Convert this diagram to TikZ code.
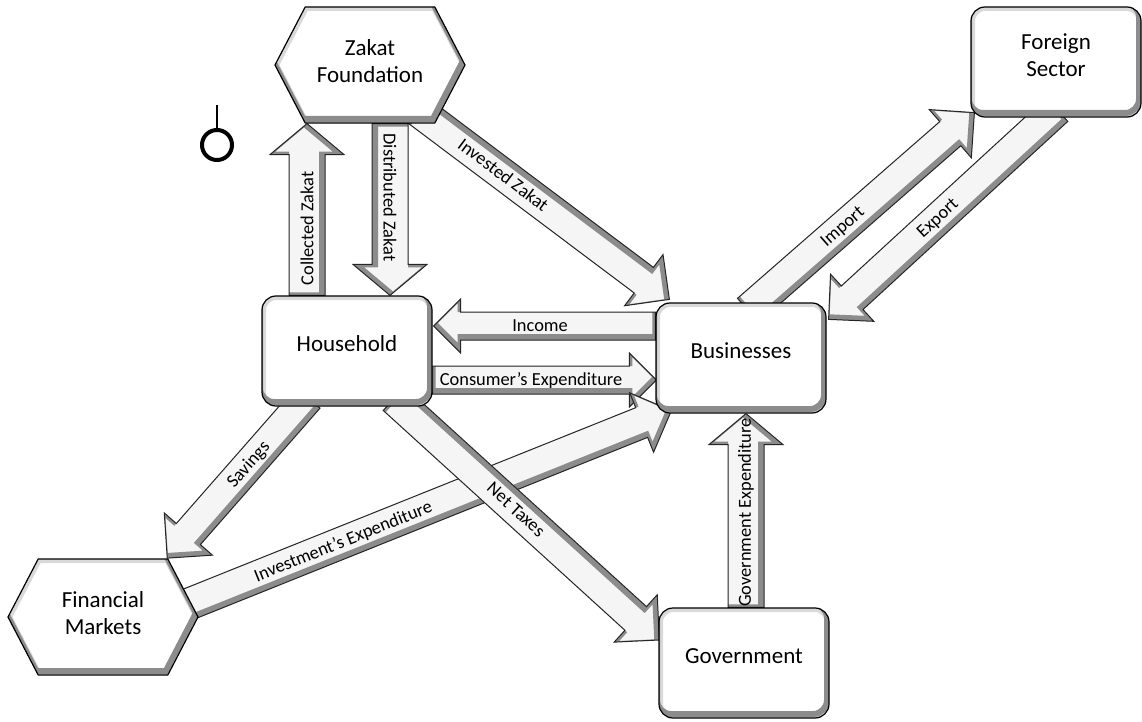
\documentclass[tikz,border=0pt]{standalone}
\usepackage{fontspec}
\setmainfont{Carlito}
\usetikzlibrary{shapes.symbols,calc,positioning}

\pgfdeclarelayer{back}
\pgfsetlayers{back,main}

\newdimen\flowdx
\newdimen\flowdy
\newcommand{\flowpath}{(0,-\flowb) -- (\flowlen-\flowtip,-\flowb) -- (\flowlen-\flowtip,-\flowH) -- (\flowlen,0) -- (\flowlen-\flowtip,\flowH) -- (\flowlen-\flowtip,\flowb) -- (0,\flowb) -- cycle}
% block arrow: [size]{tail}{tip}{label}{label pos}{dark side: 1 right, -1 left}
\newcommand{\flow}[6][flowdiag]{%
    \pgfextractx{\flowdx}{\pgfpointdiff{\pgfpointanchor{#2}{center}}{\pgfpointanchor{#3}{center}}}%
    \pgfextracty{\flowdy}{\pgfpointdiff{\pgfpointanchor{#2}{center}}{\pgfpointanchor{#3}{center}}}%
    \pgfmathsetmacro\flowlen{veclen(\flowdx,\flowdy)}%
    \pgfmathsetmacro\flowang{atan2(\flowdy,\flowdx)}%
    \pgfmathsetmacro\flowrot{\flowang>90.5 ? \flowang-180 : (\flowang<-90.5 ? \flowang+180 : \flowang)}%
    \begin{scope}[#1, shift={(#2)}, rotate=\flowang, x=1pt, y=1pt]
        \fill[flowfill] \flowpath;
        \begin{scope}
            \clip \flowpath;
            \draw[flowshade, yshift=#6*1.5pt] \flowpath;
        \end{scope}
        \draw[flowedge] \flowpath;
        \node[flowlabel, rotate=\flowrot] at (#5*\flowlen,0) {#4};
    \end{scope}}

\begin{document}
\begin{tikzpicture}[x=0.5pt, y=-0.5pt,
    boxshape/.style={rectangle, rounded corners=7pt, minimum width=85pt, minimum height=55pt, inner sep=0pt},
    hexshape/.style={signal, signal to=west and east, signal pointer angle=125, minimum width=95pt, minimum height=58pt, inner sep=0pt},
    box/.style={boxshape, draw, line width=0.6pt, fill=white, align=center, text depth=7pt, font=\fontsize{11.5}{13.5}\selectfont,
        path picture={
            \node[boxshape, draw=black!15, line width=4pt] at (path picture bounding box.center) {};
            \node[boxshape, draw=black!45, line width=3pt] at ([shift={(-1pt,2pt)}]path picture bounding box.center) {};}},
    hexbox/.style={hexshape, draw, line width=0.6pt, fill=white, align=center, text depth=4pt, font=\fontsize{11.5}{13.5}\selectfont,
        path picture={
            \node[hexshape, draw=black!15, line width=4pt] at (path picture bounding box.center) {};
            \node[hexshape, draw=black!45, line width=3pt] at ([shift={(-1pt,2pt)}]path picture bounding box.center) {};}},
    flowwide/.code={\def\flowb{9}\def\flowH{18.5}\def\flowtip{15.5}},
    flowslim/.code={\def\flowb{7}\def\flowH{13.5}\def\flowtip{13.5}},
    flowdiag/.code={\def\flowb{8}\def\flowH{16}\def\flowtip{16}},
    flowfill/.style={fill=black!4},
    flowshade/.style={draw=black!45, line width=3pt},
    flowedge/.style={draw=black!85, line width=0.5pt},
    flowlabel/.style={font=\fontsize{9.2}{10}\selectfont, inner sep=0pt}
]
    \useasboundingbox (0,0) rectangle (1142,722);

    \node[hexbox] (zakat) at (370,65) {Zakat\\Foundation};
    \node[box] (foreign) at (1056,62) {Foreign\\Sector};
    \node[box] (household) at (347,351) {Household};
    \node[box] (business) at (741,358) {Businesses};
    \node[box] (government) at (744,663) {Government};
    \node[hexbox] (finance) at (103,617) {Financial\\Markets};

    \node[circle, draw, line width=2pt, minimum size=15pt, inner sep=0pt] (ring) at (217,145) {};
    \coordinate (ringtop) at (217,105);
    \draw[line width=0.6pt] (ring) -- (ringtop);

    \coordinate (collT) at ($(household.north)+(-40,0)$);
    \coordinate (collH) at ($(zakat.south)+(-63,0)$);
    \coordinate (distT) at ($(zakat.south)+(20,0)$);
    \coordinate (distH) at ($(household.north)+(43,0)$);
    \coordinate (invzT) at ($(zakat.south)+(48,-13)$);
    \coordinate (invzH) at ($(business.north west)+(14,-3)$);
    \coordinate (impT) at ($(business.north)+(7,8)$);
    \coordinate (impH) at ($(foreign.south west)+(4,-5)$);
    \coordinate (expT) at ($(foreign.south)+(1,-8)$);
    \coordinate (expH) at ($(business.north east)+(2,17)$);
    \coordinate (incT) at ($(business.west)+(0,-32)$);
    \coordinate (incH) at ($(household.east)+(1,-25)$);
    \coordinate (conT) at ($(household.east)+(0,29)$);
    \coordinate (conH) at ($(business.west)+(1,22)$);
    \coordinate (savT) at ($(household.south)+(-39,-9)$);
    \coordinate (savH) at ($(finance.north)+(64,0)$);
    \coordinate (invT) at ($(finance.east)+(-17,-10)$);
    \coordinate (invH) at ($(business.south west)+(16,-3)$);
    \coordinate (taxT) at ($(household.south)+(47,-8)$);
    \coordinate (taxH) at ($(government.west)+(1,-23)$);
    \coordinate (govT) at ($(government.north)+(2,0)$);
    \coordinate (govH) at ($(business.south)+(5,0)$);

    \begin{pgfonlayer}{back}
        \flow[flowwide]{collT}{collH}{Collected Zakat}{0.39}{1}
        \flow[flowwide]{distT}{distH}{Distributed Zakat}{0.43}{1}
        \flow{invzT}{invzH}{Invested Zakat}{0.34}{-1}
        \flow{impT}{impH}{Import}{0.42}{1}
        \flow{expT}{expH}{Export}{0.52}{-1}
        \flow[flowslim]{incT}{incH}{Income}{0.52}{-1}
        \flow[flowslim]{conT}{conH}{Consumer's Expenditure}{0.44}{1}
        \flow{savT}{savH}{Savings}{0.42}{-1}
        \flow{invT}{invH}{Investment's Expenditure}{0.33}{1}
        \flow{taxT}{taxH}{Net Taxes}{0.46}{-1}
        \flow[flowwide]{govT}{govH}{Government Expenditure}{0.49}{1}
    \end{pgfonlayer}
\end{tikzpicture}
\end{document}
